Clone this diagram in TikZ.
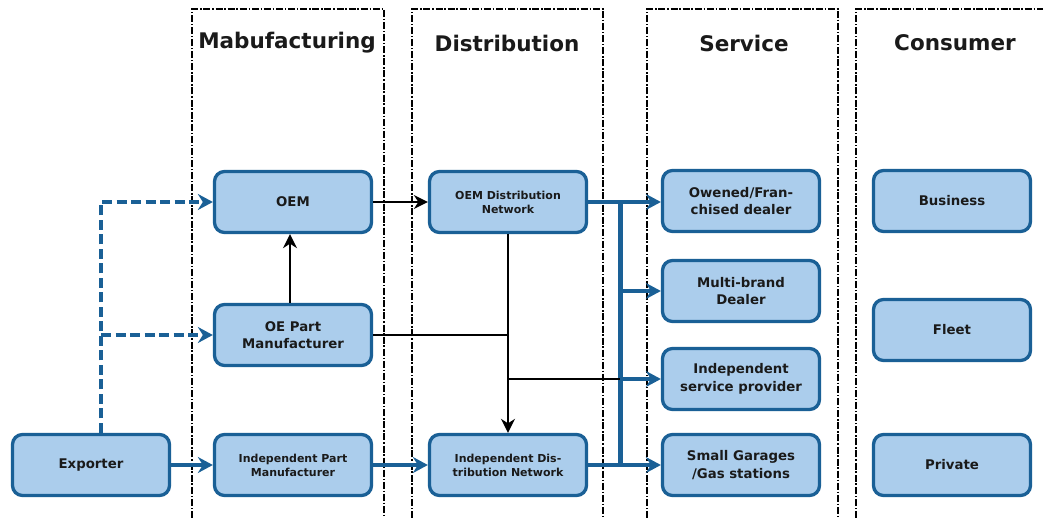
\documentclass[tikz,border=0pt]{standalone}
\usepackage{fontspec}
\setmainfont{DejaVu Sans}
\usetikzlibrary{arrows.meta}
\definecolor{bfill}{HTML}{ABCDEC}
\definecolor{bdr}{HTML}{1A6096}
\definecolor{txt}{HTML}{1A1A1A}
\begin{document}
\begin{tikzpicture}[x=1pt,y=-1pt,
  box/.style={draw=bdr, fill=bfill, line width=3.3pt, rounded corners=10pt,
    minimum width=157pt, minimum height=61pt, align=center, inner sep=0pt,
    text=txt, font=\bfseries\fontsize{13.3}{17.5}\selectfont},
  smalltext/.style={font=\bfseries\fontsize{11}{14}\selectfont},
  coltitle/.style={text=txt, font=\bfseries\fontsize{21.5}{24}\selectfont, inner sep=0pt},
  colline/.style={draw=black, line width=1.9pt, dash pattern=on 7pt off 1.8pt on 1.5pt off 1.8pt},
  bluearrow/.style={draw=bdr, line width=3.2pt, -{Stealth[length=15pt,width=16pt,inset=5pt]}},
  bluedash/.style={draw=bdr, line width=3.4pt, dash pattern=on 10pt off 4.5pt, -{Stealth[length=15pt,width=16pt,inset=5pt]}},
  blackarrow/.style={draw=black, line width=2pt, -{Stealth[length=14pt,width=14pt,inset=4.5pt]}},
  blackline/.style={draw=black, line width=2pt}
]
\useasboundingbox (0,0) rectangle (1043,517);
\fill[white] (0,0) rectangle (1043,517);

% column frames
\draw[colline] (192,530) -- (192,9) -- (384,9) -- (384,530);
\draw[colline] (412,530) -- (412,9) -- (603,9) -- (603,530);
\draw[colline] (647,530) -- (647,9) -- (838,9) -- (838,530);
\draw[colline] (856,530) -- (856,9) -- (1050,9);

% titles
\node[coltitle] (t1) at (287,43) {Mabufacturing};
\node[coltitle] (t2) at (507,43) {Distribution};
\node[coltitle] (t3) at (744,43) {Service};
\node[coltitle] (t4) at (955,43) {Consumer};

% nodes
\node[box] (oem) at (293,202) {OEM};
\node[box] (ope) at (293,335) {OE Part\\Manufacturer};
\node[box, smalltext] (ipm) at (293,465) {Independent Part\\Manufacturer};
\node[box] (exp) at (91,465) {Exporter};
\node[box, smalltext] (odn) at (508,202) {OEM Distribution\\Network};
\node[box, smalltext] (idn) at (508,465) {Independent Dis-\\tribution Network};
\node[box] (own) at (741,201) {Owened/Fran-\\chised dealer};
\node[box] (mbd) at (741,291) {Multi-brand\\Dealer};
\node[box] (isp) at (741,379) {Independent\\service provider};
\node[box] (sg) at (741,465) {Small Garages\\/Gas stations};
\node[box] (bus) at (952,201) {Business};
\node[box] (flt) at (952,330) {Fleet};
\node[box] (prv) at (952,465) {Private};

% helper coordinates
\coordinate (jx) at (101,0);
\coordinate (busx) at (620,0);

% exporter dashed feeds
\draw[bluedash] (exp.north -| jx) |- (oem.west);
\draw[bluedash] (jx |- ope.west) -- (ope.west);

% blue flow
\draw[bluearrow] (exp) -- (ipm);
\draw[bluearrow] (ipm) -- (idn);
\draw[bluearrow] (odn.east) -- (odn.east -| own.west);
\draw[draw=bdr, line width=5pt] (busx |- odn.east) -- (busx |- idn.east);
\draw[bluearrow] (busx |- mbd.west) -- (mbd.west);
\draw[bluearrow] (busx |- isp.west) -- (isp.west);
\draw[bluearrow] (idn.east) -- (idn.east -| sg.west);

% black flow
\draw[blackarrow] (oem) -- (odn);
\draw[blackarrow] (ope.north -| 290,0) -- (oem.south -| 290,0);
\draw[blackline] (ope.east) -- (odn.south |- ope.east);
\draw[blackarrow] (odn.south) -- (idn.north);
\draw[blackline] (odn.south |- isp.west) -- (busx |- isp.west);
\end{tikzpicture}
\end{document}
